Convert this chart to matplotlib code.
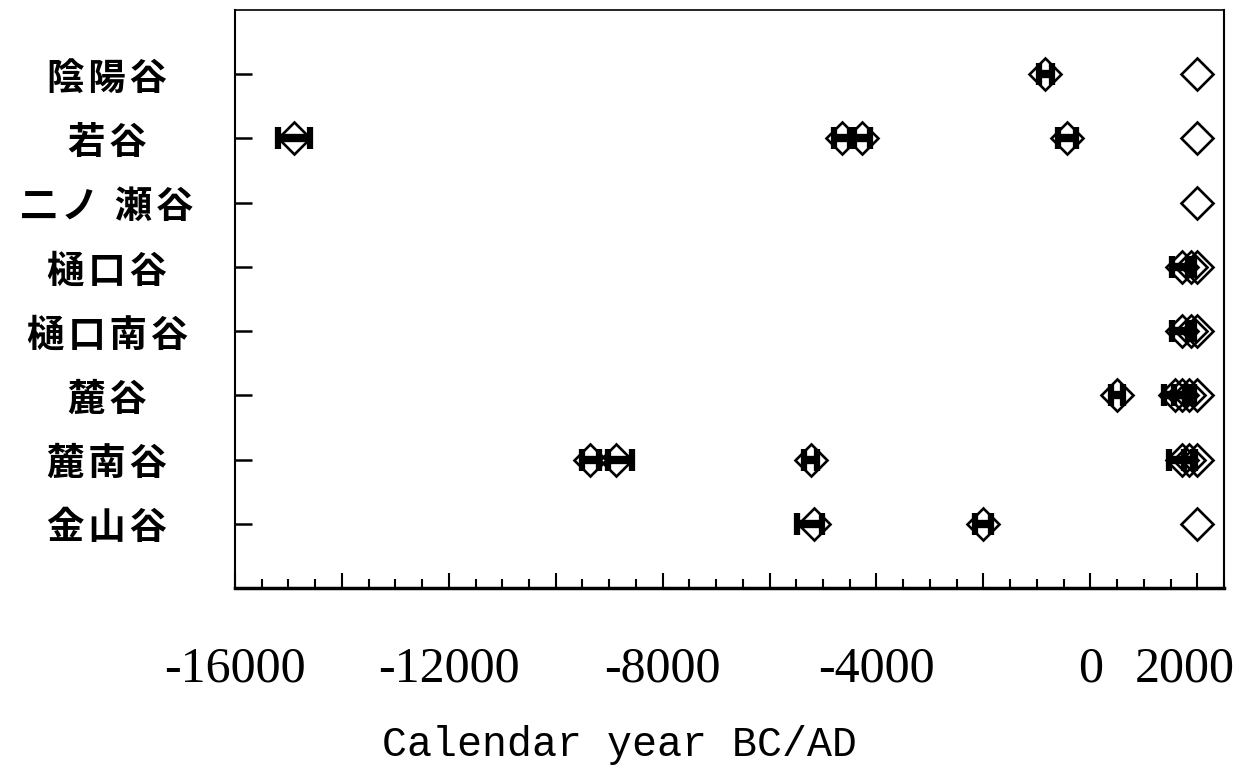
import numpy as np
import matplotlib
matplotlib.use("Agg")
import matplotlib.pyplot as plt
from matplotlib.ticker import MultipleLocator, FixedLocator
from matplotlib.transforms import ScaledTranslation

plt.rcParams['axes.unicode_minus'] = False

# sites, bottom row first (row number = position in list + 1)
sites = ["金山谷", "麓南谷", "麓谷", "樋口南谷", "樋口谷", "二ノ瀬谷", "若谷", "陰陽谷"]

# dated samples: row, calendar year, error to the left / right (years)
sample_site = [8, 7, 7, 7, 7,
               5, 5,
               4, 4,
               3, 3, 3, 3,
               2, 2, 2, 2, 2,
               1, 1]
sample_year = [-840, -14900, -4640, -4270, -430,
               1720, 1880,
               1720, 1880,
               500, 1580, 1720, 1850,
               -9350, -8880, -5230, 1720, 1850,
               -5170, -2000]
err_lo = [120, 300, 150, 150, 170,
          200, 60,
          200, 60,
          120, 200, 150, 80,
          150, 150, 125, 250, 100,
          310, 150]
err_hi = [120, 300, 150, 150, 170,
          150, 60,
          150, 60,
          120, 200, 150, 80,
          150, 300, 125, 200, 100,
          150, 150]

# modern reference (open diamonds, no error)
modern_site = [1, 2, 3, 4, 5, 6, 7, 8]
modern_year = [2000] * 8

fig = plt.figure(figsize=(12.44, 7.74), dpi=100)
ax = fig.add_axes([0.1889, 0.2403, 0.7950, 0.7468])

diamond = dict(marker='D', ms=16.5, mfc='none', mec='black', mew=1.9, ls='none')

ax.errorbar(sample_year, sample_site, xerr=[err_lo, err_hi], fmt='none',
            ecolor='black', elinewidth=6, capsize=8, capthick=4.5, zorder=3)
ax.plot(sample_year, sample_site, zorder=4, **diamond)
ax.plot(modern_year, modern_site, zorder=4, **diamond)

ax.set_xlim(-16000, 2500)
ax.set_ylim(0, 9)

ax.xaxis.set_major_locator(MultipleLocator(2000))
ax.xaxis.set_minor_locator(MultipleLocator(500))
shown = {-16000: "-16000", -12000: "-12000", -8000: "-8000", -4000: "-4000", 0: "0", 2000: "2000"}
ax.xaxis.set_major_formatter(plt.FuncFormatter(lambda v, p: shown.get(int(round(v)), "")))
ax.tick_params(axis='x', which='major', direction='in', length=11, width=1.5,
               pad=42, labelsize=36)
ax.tick_params(axis='x', which='minor', direction='in', length=6.5, width=1.5)
fig.canvas.draw()
for tick in ax.xaxis.get_major_ticks():
    tick.label1.set_family('Liberation Serif')
    if abs(tick.get_loc() - 2000) < 1:
        tick.label1.set_transform(tick.label1.get_transform() +
                                  ScaledTranslation(-12 / 100, 0, fig.dpi_scale_trans))

ax.yaxis.set_major_locator(FixedLocator(range(1, 9)))
spaced = [s.replace("二ノ", "二ノ ") for s in sites]
spaced = ["\u200a".join(list(s)) for s in spaced]
ax.set_yticklabels(spaced, family=['Noto Sans CJK JP', 'DejaVu Sans'],
                   fontweight='bold', fontsize=27, ha='center')
ax.tick_params(axis='y', direction='in', length=12, width=1.8, pad=92)

ax.set_xlabel("Calendar year BC/AD", family='Liberation Mono', fontsize=30, va='center')
ax.xaxis.set_label_coords(0.389, -0.272)

ax.spines['bottom'].set_linewidth(2.5)
ax.spines['left'].set_linewidth(1.5)
ax.spines['right'].set_linewidth(1.5)
ax.spines['top'].set_linewidth(1.2)

fig.savefig("out.png", dpi=100)
